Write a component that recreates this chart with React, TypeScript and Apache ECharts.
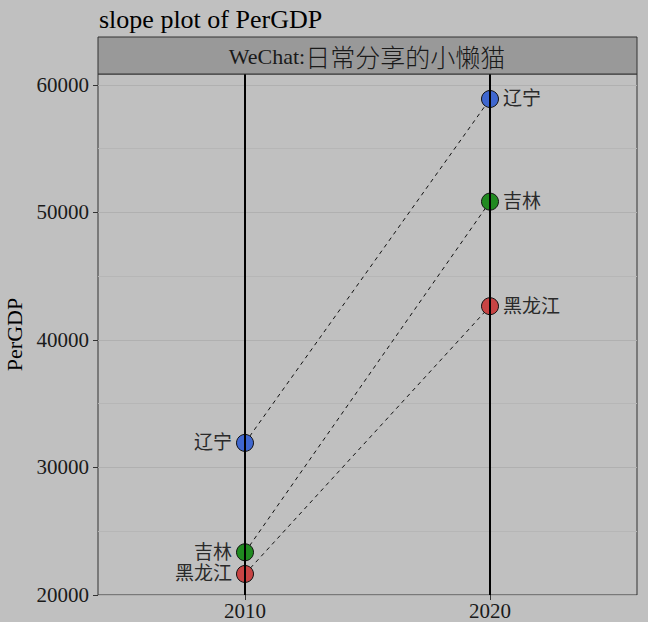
import React, { useEffect, useRef } from "react";
import * as echarts from "echarts";

const provinces = ["辽宁", "吉林", "黑龙江"];
const years = [2010, 2020];
const perGDP2010 = [31930, 23350, 21650];
const perGDP2020 = [58900, 50850, 42650];
const pointColors = ["#3F67CF", "#208A20", "#C84444"];
const yTicks = [20000, 30000, 40000, 50000, 60000];

const serif = "'Liberation Serif', 'DejaVu Serif', 'Noto Sans CJK SC', serif";

export default function App() {
  const ref = useRef<HTMLDivElement>(null);
  useEffect(() => {
    if (!ref.current) return;
    const chart = echarts.init(ref.current, undefined, { renderer: "svg" });
    const series: any[] = provinces.map((p, i) => ({
      type: "line",
      name: p,
      z: 3,
      data: [
        { value: [years[0], perGDP2010[i]], label: { position: "left" } },
        { value: [years[1], perGDP2020[i]], label: { position: "right" } },
      ],
      symbol: "circle",
      symbolSize: 17,
      lineStyle: { color: "#111", width: 1, type: [4, 4] },
      itemStyle: { color: pointColors[i], borderColor: "#111", borderWidth: 1 },
      label: {
        show: true,
        formatter: p,
        fontFamily: serif,
        fontSize: 19,
        color: "#2a2a2a",
        distance: 4,
      },
      emphasis: { disabled: true },
    }));
    series.push({
      type: "line",
      data: [],
      z: 1,
      markLine: {
        silent: true,
        symbol: "none",
        label: { show: false },
        lineStyle: { color: "#000", width: 2, type: "solid" },
        data: years.map((y) => ({ xAxis: y })),
      },
    });
    chart.setOption({
      animation: false,
      backgroundColor: "#C0C0C0",
      title: {
        text: "slope plot of PerGDP",
        left: 94,
        top: 1,
        textStyle: { fontFamily: serif, fontSize: 26, fontWeight: "normal", color: "#000" },
      },
      grid: {
        left: 98,
        right: 11,
        top: 74,
        bottom: 27,
        outerBoundsMode: "none",
        containLabel: false,
        show: true,
        backgroundColor: "#C0C0C0",
        borderColor: "#333",
        borderWidth: 1,
      },
      xAxis: {
        type: "value",
        min: 2004,
        max: 2026,
        interval: 2,
        axisLine: { show: false },
        axisTick: { show: true, customValues: years, length: 5, lineStyle: { color: "#333" } },
        axisLabel: {
          customValues: years,
          formatter: (v: number) => String(v),
          fontFamily: serif,
          fontSize: 21,
          color: "#1a1a1a",
          margin: 5,
        },
        splitLine: { show: false },
      },
      yAxis: {
        type: "value",
        min: 20000,
        max: 60860,
        interval: 10000,
        name: "PerGDP",
        nameLocation: "middle",
        nameGap: 68,
        nameTextStyle: { fontFamily: serif, fontSize: 22, color: "#000" },
        axisLine: { show: false },
        axisTick: { show: true, customValues: yTicks, length: 5, lineStyle: { color: "#333" } },
        axisLabel: {
          customValues: yTicks,
          formatter: (v: number) => String(v),
          fontFamily: serif,
          fontSize: 21,
          color: "#1a1a1a",
          margin: 9,
        },
        splitLine: { show: true, lineStyle: { color: "#B0B0B0", width: 1 } },
        minorTick: { show: false, splitNumber: 2 },
        minorSplitLine: { show: true, lineStyle: { color: "#B6B6B6", width: 1 } },
      },
      graphic: [
        {
          type: "rect",
          shape: { x: 98, y: 37, width: 539, height: 37 },
          style: { fill: "#999999", stroke: "#333", lineWidth: 1 },
          z: 10,
        },
        {
          type: "text",
          x: 367,
          y: 56,
          z: 11,
          style: {
            text: "{a|WeChat:}{b|日常分享的小懒猫}",
            align: "center",
            verticalAlign: "middle",
            rich: {
              a: { fontFamily: serif, fontSize: 22, fill: "#1a1a1a" } as any,
              b: { fontFamily: "'Noto Sans CJK SC', sans-serif", fontSize: 25, fontWeight: 300, fill: "#1a1a1a" } as any,
            },
          } as any,
        },
      ],
      series,
    });
    return () => chart.dispose();
  }, []);
  return (
    <div
      ref={ref}
      style={{ position: "fixed", left: 0, top: 0, width: 648, height: 622 }}
    />
  );
}
